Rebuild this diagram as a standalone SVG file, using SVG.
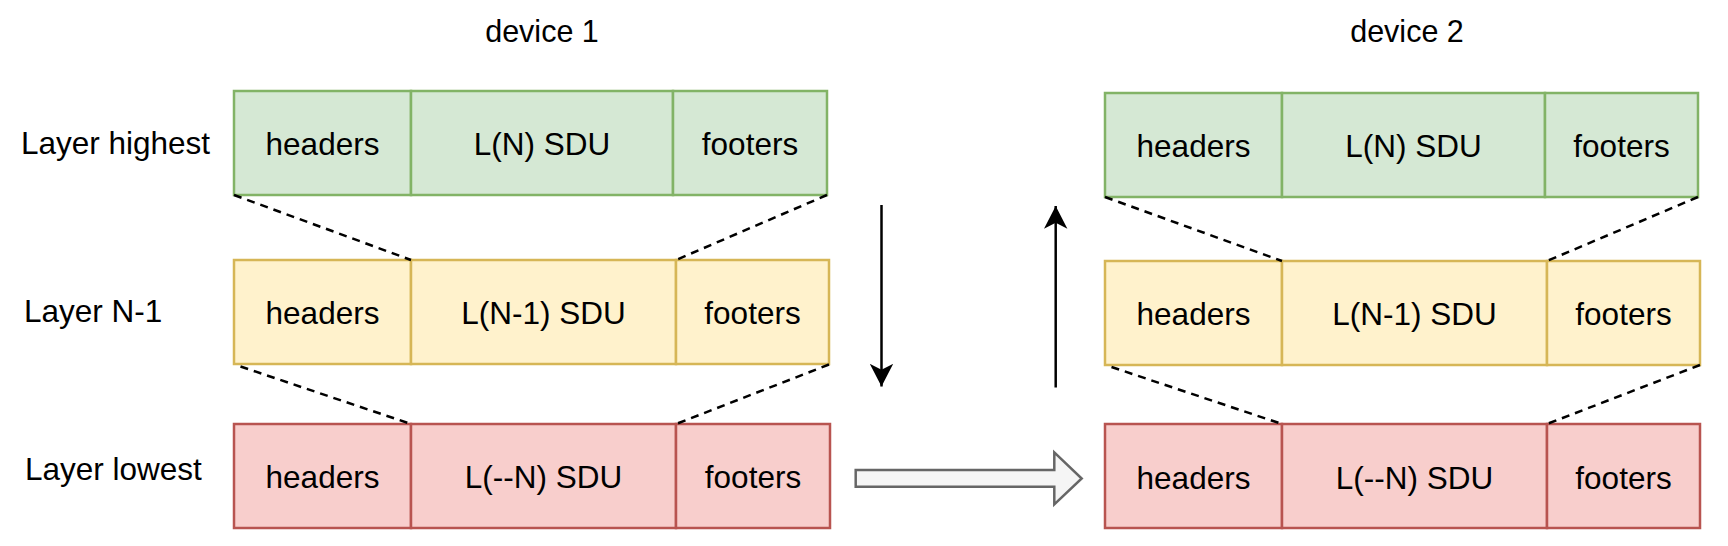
<svg xmlns="http://www.w3.org/2000/svg" width="1728" height="546" viewBox="0 0 1728 546">
<style>
text { font-family: "Liberation Sans", Arial, Helvetica, sans-serif; font-size: 31.5px; fill: #000000; }
.t { font-size: 30.5px; }
.c { text-anchor: middle; }
.g { fill: #d5e8d4; stroke: #82b366; stroke-width: 2.5; }
.y { fill: #fff2cc; stroke: #d6b656; stroke-width: 2.5; }
.r { fill: #f8cecc; stroke: #b85450; stroke-width: 2.5; }
.dash { fill: none; stroke: #000000; stroke-width: 2.5; stroke-dasharray: 8 6; }
.arr { fill: none; stroke: #000000; stroke-width: 2.5; marker-end: url(#head); }
.block { fill: #f5f5f5; stroke: #666666; stroke-width: 2.5; }
</style>
<defs>
<marker id="head" markerUnits="userSpaceOnUse" viewBox="0 -12 23 24" refX="22.7" refY="0" markerWidth="23" markerHeight="24" orient="auto">
<path d="M0,-11.7 L22.7,0 L0,11.7 L6,0 Z" fill="#000000"/>
</marker>
</defs>
<rect width="1728" height="546" fill="#ffffff"/>

<g id="title-device1"><text class="c t" x="542" y="42">device 1</text></g>
<g id="title-device2"><text class="c t" x="1407" y="42">device 2</text></g>

<g id="label-highest"><text x="21" y="153.5">Layer highest</text></g>
<g id="label-n1"><text x="24" y="322">Layer N-1</text></g>
<g id="label-lowest"><text x="25" y="480">Layer lowest</text></g>

<!-- device 1 -->
<g id="d1-high-headers"><rect class="g" x="234" y="91" width="177" height="104"/><text class="c" x="322.5" y="155">headers</text></g>
<g id="d1-high-sdu"><rect class="g" x="411" y="91" width="262" height="104"/><text class="c" x="542" y="155">L(N) SDU</text></g>
<g id="d1-high-footers"><rect class="g" x="673" y="91" width="154" height="104"/><text class="c" x="750" y="155">footers</text></g>

<g id="d1-mid-headers"><rect class="y" x="234" y="260" width="177" height="104"/><text class="c" x="322.5" y="324">headers</text></g>
<g id="d1-mid-sdu"><rect class="y" x="411" y="260" width="265" height="104"/><text class="c" x="543.5" y="324">L(N-1) SDU</text></g>
<g id="d1-mid-footers"><rect class="y" x="676" y="260" width="153" height="104"/><text class="c" x="752.5" y="324">footers</text></g>

<g id="d1-low-headers"><rect class="r" x="234" y="424" width="177" height="104"/><text class="c" x="322.5" y="488">headers</text></g>
<g id="d1-low-sdu"><rect class="r" x="411" y="424" width="265" height="104"/><text class="c" x="543.5" y="488">L(--N) SDU</text></g>
<g id="d1-low-footers"><rect class="r" x="676" y="424" width="154" height="104"/><text class="c" x="753" y="488">footers</text></g>

<!-- device 2 -->
<g id="d2-high-headers"><rect class="g" x="1105" y="93" width="177" height="104"/><text class="c" x="1193.5" y="157">headers</text></g>
<g id="d2-high-sdu"><rect class="g" x="1282" y="93" width="263" height="104"/><text class="c" x="1413.5" y="157">L(N) SDU</text></g>
<g id="d2-high-footers"><rect class="g" x="1545" y="93" width="153" height="104"/><text class="c" x="1621.5" y="157">footers</text></g>

<g id="d2-mid-headers"><rect class="y" x="1105" y="261" width="177" height="104"/><text class="c" x="1193.5" y="325">headers</text></g>
<g id="d2-mid-sdu"><rect class="y" x="1282" y="261" width="265" height="104"/><text class="c" x="1414.5" y="325">L(N-1) SDU</text></g>
<g id="d2-mid-footers"><rect class="y" x="1547" y="261" width="153" height="104"/><text class="c" x="1623.5" y="325">footers</text></g>

<g id="d2-low-headers"><rect class="r" x="1105" y="424" width="177" height="104"/><text class="c" x="1193.5" y="488.5">headers</text></g>
<g id="d2-low-sdu"><rect class="r" x="1282" y="424" width="265" height="104"/><text class="c" x="1414.5" y="488.5">L(--N) SDU</text></g>
<g id="d2-low-footers"><rect class="r" x="1547" y="424" width="153" height="104"/><text class="c" x="1623.5" y="488.5">footers</text></g>

<g id="connectors">
<line class="dash" x1="234" y1="195" x2="411" y2="260"/>
<line class="dash" x1="827" y1="195" x2="676" y2="260"/>
<line class="dash" x1="240.5" y1="366.5" x2="411" y2="424"/>
<line class="dash" x1="829" y1="364.5" x2="676" y2="424"/>
<line class="dash" x1="1105" y1="197" x2="1282" y2="261"/>
<line class="dash" x1="1698" y1="197" x2="1547" y2="261"/>
<line class="dash" x1="1111.5" y1="367" x2="1282" y2="424"/>
<line class="dash" x1="1700" y1="365" x2="1547" y2="424"/>
<line class="arr" x1="881.5" y1="205" x2="881.5" y2="386.5"/>
<line class="arr" x1="1055.7" y1="387.5" x2="1055.7" y2="206"/>
<polygon class="block" points="855.7,470 1054.3,470 1054.3,452.3 1081.7,478.5 1054.3,504.3 1054.3,486.7 855.7,486.7"/>
</g>
</svg>
